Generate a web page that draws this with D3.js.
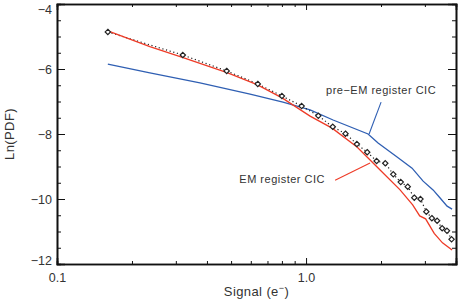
<!DOCTYPE html>
<html>
<head>
<meta charset="utf-8">
<script src="https://cdn.jsdelivr.net/npm/d3@7"></script>
<style>
  body { margin: 0; background: #fff; }
  text { font-family: "Liberation Sans", Arial, sans-serif; fill: #333; }
</style>
</head>
<body>
<div id="chart"></div>
<script>
// signal (e-) where the diamonds sit, and Ln(PDF) of the measured points
let pointX = [0.16, 0.32, 0.48, 0.64, 0.80, 0.96, 1.12, 1.28, 1.44, 1.60, 1.76, 1.92,
              2.08, 2.24, 2.40, 2.56, 2.72, 2.88, 3.04, 3.20, 3.36, 3.52, 3.68, 3.84];
let pointY = [-4.86, -5.57, -6.06, -6.46, -6.83, -7.14, -7.44, -7.78, -7.99, -8.31, -8.56, -8.83,
              -8.90, -9.24, -9.48, -9.62, -9.96, -10.00, -10.39, -10.59, -10.67, -10.90, -10.98, -11.24];

// EM register CIC model (red)
let emX = [0.160, 0.236, 0.321, 0.482, 0.636, 0.801, 1.038, 1.272, 1.602, 1.983, 2.385, 2.680, 2.860, 3.020, 3.270, 3.530, 3.858];
let emY = [-4.83, -5.31, -5.65, -6.11, -6.48, -6.89, -7.45, -7.82, -8.40, -9.11, -9.72, -10.18, -10.52, -10.61, -11.06, -11.35, -11.57];

// pre-EM register CIC model (blue)
let preX = [0.160, 0.236, 0.375, 0.596, 0.808, 1.038, 1.284, 1.774, 1.946, 2.320, 2.665, 2.951, 3.236, 3.453, 3.684, 3.858];
let preY = [-5.85, -6.12, -6.43, -6.77, -7.02, -7.26, -7.57, -8.00, -8.28, -8.71, -9.05, -9.45, -9.72, -9.97, -10.22, -10.31];

let xMajor = [0.1, 1];
let xMinor = [0.2, 0.3, 0.4, 0.5, 0.6, 0.7, 0.8, 0.9, 2, 3];
let yMajor = [-12, -10, -8, -6, -4];
let yMinor = [-11.5, -11, -10.5, -9.5, -9, -8.5, -7.5, -7, -6.5, -5.5, -5, -4.5];

var W = 463, H = 300;
var margin = {top: 4, right: 7, bottom: 36, left: 57};

var svg = d3.select("#chart")
  .append("svg")
    .attr("width", W)
    .attr("height", H);

var x = d3.scaleLog()
  .domain([0.1, 4])
  .range([margin.left, W - margin.right]);

var y = d3.scaleLinear()
  .domain([-12, -4])
  .range([H - margin.bottom, margin.top]);

var fmtX = d => d < 1 ? "0.1" : "1.0";

// axes, ticks pointing in
let gBottom = svg.append("g").attr("transform", "translate(0," + y(-12) + ")");
gBottom.call(d3.axisBottom(x).tickValues(xMajor).tickFormat(fmtX).tickSize(-6).tickPadding(9));
gBottom.append("g").call(d3.axisBottom(x).tickValues(xMinor).tickFormat("").tickSize(-3));

let gTop = svg.append("g").attr("transform", "translate(0," + y(-4) + ")");
gTop.call(d3.axisTop(x).tickValues(xMajor).tickFormat("").tickSize(-6));
gTop.append("g").call(d3.axisTop(x).tickValues(xMinor).tickFormat("").tickSize(-3));

let gLeft = svg.append("g").attr("transform", "translate(" + x(0.1) + ",0)");
gLeft.call(d3.axisLeft(y).tickValues(yMajor).tickFormat(d3.format("d")).tickSize(-8).tickPadding(5));
gLeft.append("g").call(d3.axisLeft(y).tickValues(yMinor).tickFormat("").tickSize(-4));

let gRight = svg.append("g").attr("transform", "translate(" + x(4) + ",0)");
gRight.call(d3.axisRight(y).tickValues(yMajor).tickFormat("").tickSize(-8));
gRight.append("g").call(d3.axisRight(y).tickValues(yMinor).tickFormat("").tickSize(-4));

svg.selectAll(".domain").attr("stroke", "#111").attr("stroke-width", 1.6);
svg.selectAll(".tick line").attr("stroke", "#111").attr("stroke-width", 1);
svg.selectAll(".tick text")
  .style("font-family", "'Liberation Sans', Arial, sans-serif")
  .style("font-size", "12.5px")
  .attr("fill", "#333");

// end labels sit slightly inside the frame
gLeft.selectAll(".tick text").attr("dy", d => d == -4 ? "0.75em" : d == -12 ? "0.0em" : "0.32em");

// curves
var line = d3.line().x(d => x(d[0])).y(d => y(d[1]));

svg.append("path")
  .datum(d3.zip(preX, preY))
  .attr("fill", "none")
  .attr("stroke", "#2f5fb3")
  .attr("stroke-width", 1.3)
  .attr("d", line);

svg.append("path")
  .datum(d3.zip(pointX, pointY))
  .attr("fill", "none")
  .attr("stroke", "#222")
  .attr("stroke-width", 1.2)
  .attr("stroke-dasharray", "1.2,2.6")
  .attr("d", line);

svg.append("path")
  .datum(d3.zip(emX, emY))
  .attr("fill", "none")
  .attr("stroke", "#ee3b27")
  .attr("stroke-width", 1.3)
  .attr("d", line);

// diamonds
svg.selectAll(".pt")
  .data(d3.zip(pointX, pointY))
  .enter()
  .append("path")
    .attr("class", "pt")
    .attr("transform", d => "translate(" + x(d[0]) + "," + y(d[1]) + ")")
    .attr("d", d3.symbol(d3.symbolDiamond2, 18))
    .attr("fill", "#fff")
    .attr("stroke", "#222")
    .attr("stroke-width", 1.2);

// annotations
function note(tx, ty, anchor, label, x1, y1, x2, y2, col) {
  svg.append("line")
    .attr("x1", x(x1)).attr("y1", y(y1))
    .attr("x2", x(x2)).attr("y2", y(y2))
    .attr("stroke", col).attr("stroke-width", 1.1);
  svg.append("text")
    .attr("x", x(tx)).attr("y", y(ty))
    .attr("text-anchor", anchor)
    .style("font-size", "11px")
    .style("letter-spacing", "0.5px")
    .text(label);
}
note(1.203, -6.77, "start", "pre\u2212EM register CIC", 2.001, -7.02, 1.791, -8.0, "#2f5fb3");
note(1.192, -9.51, "end", "EM register CIC", 1.308, -9.42, 1.807, -8.89, "#ee3b27");

// axis titles
var xt = svg.append("text")
  .attr("x", (x(0.1) + x(4)) / 2)
  .attr("y", 296)
  .attr("text-anchor", "middle")
  .style("font-size", "13px")
  .style("letter-spacing", "0.4px");
xt.append("tspan").text("Signal (e");
xt.append("tspan").attr("dy", -5).style("font-size", "9px").text("\u2212");
xt.append("tspan").attr("dy", 5).text(")");

svg.append("text")
  .attr("transform", "translate(14," + y(-8) + ") rotate(-90)")
  .attr("text-anchor", "middle")
  .style("font-size", "13px")
  .style("letter-spacing", "0.4px")
  .text("Ln(PDF)");
</script>
</body>
</html>
